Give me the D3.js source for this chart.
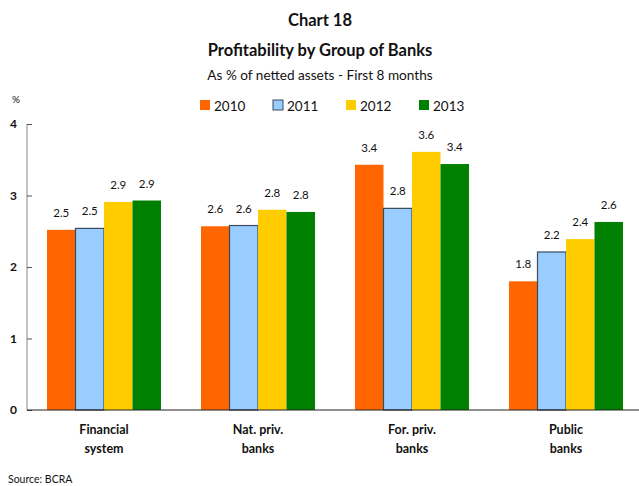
<!DOCTYPE html>
<html>
<head>
<meta charset="utf-8">
<script src="https://cdn.jsdelivr.net/npm/d3@7"></script>
<style>
  body { margin: 0; background: #fff; }
  text { font-family: "Lato", "Open Sans", sans-serif; fill: #111; }
</style>
</head>
<body>
<div id="chart"></div>
<script>
// chart data
var groups = ["Financial system", "Nat. priv. banks", "For. priv. banks", "Public banks"];
var groupLines = [["Financial", "system"], ["Nat. priv.", "banks"], ["For. priv.", "banks"], ["Public", "banks"]];
var years = ["2010", "2011", "2012", "2013"];
var v2010 = [2.52, 2.57, 3.43, 1.80];
var v2011 = [2.54, 2.58, 2.82, 2.21];
var v2012 = [2.91, 2.80, 3.61, 2.39];
var v2013 = [2.93, 2.77, 3.44, 2.63];
var yTicks = [0, 1, 2, 3, 4];

var series = [v2010, v2011, v2012, v2013];
var colors = ["#FF6600", "#99CCFF", "#FFCC00", "#008000"];

var width = 639, height = 486;
var margin = {left: 27, right: 0, top: 124, bottom: 76};

var svg = d3.select("#chart").append("svg")
  .attr("width", width)
  .attr("height", height);

// titles
svg.append("text").attr("x", 320).attr("y", 26).attr("text-anchor", "middle")
  .style("font-weight", "bold").style("font-size", "16.5px").text("Chart 18");
svg.append("text").attr("x", 320).attr("y", 56).attr("text-anchor", "middle")
  .style("font-weight", "bold").style("font-size", "16.5px").text("Profitability by Group of Banks");
svg.append("text").attr("x", 320).attr("y", 80).attr("text-anchor", "middle")
  .style("font-size", "13.6px").text("As % of netted assets - First 8 months");
svg.append("text").attr("x", 12).attr("y", 103)
  .style("font-size", "10px").text("%");

// scales
var x0 = d3.scaleBand()
  .domain(groups)
  .range([margin.left, margin.left + 4 * 154]);

var x1 = d3.scaleBand()
  .domain(years)
  .range([0, 114]);

var y = d3.scaleLinear()
  .domain([0, 4])
  .range([height - margin.bottom, margin.top]);

// y axis
var yAxis = d3.axisRight(y)
  .tickValues(yTicks)
  .tickSize(5)
  .tickFormat(d3.format("d"));

var gy = svg.append("g")
  .attr("transform", "translate(" + margin.left + ",0)")
  .call(yAxis);
gy.select(".domain").attr("stroke", "#888").attr("d", "M0," + y(4) + "V" + y(0));
gy.selectAll(".tick line").attr("stroke", "#555");
gy.selectAll(".tick text")
  .attr("x", -10)
  .attr("text-anchor", "end")
  .style("font-weight", "bold")
  .style("font-size", "12px");

// bars
var barData = [];
groups.forEach(function(g, i) {
  years.forEach(function(yr, j) {
    barData.push({group: g, year: yr, value: series[j][i], color: colors[j]});
  });
});

var off = (154 - 114) / 2;

svg.selectAll("rect.bar")
  .data(barData)
  .enter()
  .append("rect")
  .attr("class", "bar")
  .attr("x", function(d) { return x0(d.group) + off + x1(d.year); })
  .attr("y", function(d) { return y(d.value); })
  .attr("width", x1.bandwidth())
  .attr("height", function(d) { return y(0) - y(d.value); })
  .attr("fill", function(d) { return d.color; })
  .attr("stroke", function(d) { return d.year == "2011" ? "#3a4a5c" : "none"; })
  .attr("stroke-width", 1.2);

// value labels
svg.selectAll("text.val")
  .data(barData)
  .enter()
  .append("text")
  .attr("class", "val")
  .attr("x", function(d) { return x0(d.group) + off + x1(d.year) + x1.bandwidth() / 2; })
  .attr("y", function(d) { return y(d.value) - 13; })
  .attr("text-anchor", "middle")
  .style("font-size", "11.5px")
  .text(function(d) { return d3.format(".1f")(d.value); });

// baseline
svg.append("line")
  .attr("x1", margin.left).attr("x2", width)
  .attr("y1", y(0)).attr("y2", y(0))
  .attr("stroke", "#222").attr("stroke-width", 1.2);

// category labels
groups.forEach(function(g, i) {
  var t = svg.append("text")
    .attr("x", x0(g) + x0.bandwidth() / 2)
    .attr("y", 434)
    .attr("text-anchor", "middle")
    .style("font-weight", "bold")
    .style("font-size", "12.5px");
  groupLines[i].forEach(function(line, k) {
    t.append("tspan")
      .attr("x", x0(g) + x0.bandwidth() / 2)
      .attr("dy", k == 0 ? 0 : 19)
      .text(line);
  });
});

// legend
var legend = svg.append("g").attr("transform", "translate(200,100)");
years.forEach(function(yr, j) {
  var item = legend.append("g").attr("transform", "translate(" + (j * 73) + ",0)");
  item.append("rect")
    .attr("width", 10).attr("height", 10)
    .attr("fill", colors[j])
    .attr("stroke", j == 1 ? "#3a4a5c" : "none");
  item.append("text")
    .attr("x", 14).attr("y", 10.5)
    .style("font-size", "13.5px")
    .text(yr);
});

// source
svg.append("text").attr("x", 8).attr("y", 483)
  .style("font-size", "10.5px").text("Source: BCRA");
</script>
</body>
</html>
